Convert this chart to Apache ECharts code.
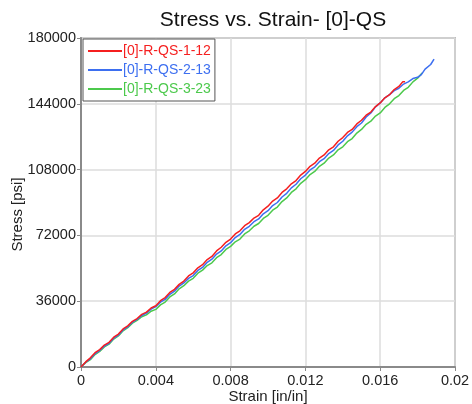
<!DOCTYPE html>
<html><head><meta charset="utf-8">
<script src="https://cdn.jsdelivr.net/npm/echarts@6/dist/echarts.min.js"></script>
<style>html,body{margin:0;padding:0;background:#fff}#c{width:472px;height:404px}</style>
</head><body><div id="c"></div>
<script>
const seriesNames = ['[0]-R-QS-1-12', '[0]-R-QS-2-13', '[0]-R-QS-3-23'];
const xTicks = [0, 0.004, 0.008, 0.012, 0.016, 0.02];
const yTicks = [0, 36000, 72000, 108000, 144000, 180000];
// [strain, stress]
const red = [[0,0],[0.00025,2800],[0.0005,5000],[0.00075,7800],[0.001,9500],[0.00125,12000],[0.0015,13500],[0.00175,16300],[0.002,18000],[0.00225,20800],[0.0025,22500],[0.00275,25000],[0.003,26500],[0.00325,28800],[0.0035,30000],[0.00375,32300],[0.004,33500],[0.00425,36300],[0.0045,38000],[0.00475,40800],[0.005,42500],[0.00525,45200],[0.0055,47000],[0.00575,49800],[0.006,51500],[0.00625,54300],[0.0065,56000],[0.00675,58800],[0.007,60500],[0.00725,63500],[0.0075,65500],[0.00775,68200],[0.008,70000],[0.00825,72800],[0.0085,74500],[0.00875,77300],[0.009,79000],[0.00925,81500],[0.0095,83000],[0.00975,86000],[0.010,88000],[0.01025,90800],[0.0105,92500],[0.01075,95500],[0.011,97500],[0.01125,100200],[0.0115,102000],[0.01175,105000],[0.012,107000],[0.01225,109800],[0.0125,111500],[0.01275,114300],[0.013,116000],[0.01325,118800],[0.0135,120500],[0.01375,123500],[0.014,125500],[0.01425,128300],[0.0145,130000],[0.01475,133000],[0.015,135000],[0.01525,137800],[0.0155,139500],[0.01575,142500],[0.016,144500],[0.01625,147300],[0.0165,149000],[0.01675,151800],[0.017,153500],[0.0172,156000],[0.01733,156000]];
const blue = [[0,0],[0.00025,2600],[0.0005,4500],[0.00075,7300],[0.001,9000],[0.00125,11500],[0.0015,13000],[0.00175,15800],[0.002,17500],[0.00225,20300],[0.0025,22000],[0.00275,24500],[0.003,26000],[0.00325,28200],[0.0035,29500],[0.00375,31700],[0.004,33000],[0.00425,35500],[0.0045,37000],[0.00475,39800],[0.005,41500],[0.00525,44300],[0.0055,46000],[0.00575,48500],[0.006,50000],[0.00625,52800],[0.0065,54500],[0.00675,57300],[0.007,59000],[0.00725,61800],[0.0075,63500],[0.00775,66300],[0.008,68000],[0.00825,70800],[0.0085,72500],[0.00875,75300],[0.009,77000],[0.00925,79500],[0.0095,81000],[0.00975,83800],[0.010,85500],[0.01025,88300],[0.0105,90000],[0.01075,93000],[0.011,95000],[0.01125,98000],[0.0115,100000],[0.01175,103000],[0.012,105000],[0.01225,107800],[0.0125,109500],[0.01275,112300],[0.013,114000],[0.01325,116800],[0.0135,118500],[0.01375,121500],[0.014,123500],[0.01425,126500],[0.0145,128500],[0.01475,131500],[0.015,133500],[0.01525,136800],[0.0155,139000],[0.01575,142300],[0.016,144500],[0.01625,147300],[0.0165,149000],[0.01675,151200],[0.017,152500],[0.01725,154800],[0.0175,156000],[0.01775,157800],[0.018,158500],[0.0182,160000],[0.0184,163000],[0.0185,164000],[0.0187,165500],[0.0188,166500],[0.01888,168500]];
const green = [[0,0],[0.00025,2400],[0.0005,4000],[0.00075,6800],[0.001,8500],[0.00125,11000],[0.0015,12500],[0.00175,15300],[0.002,17000],[0.00225,19800],[0.0025,21500],[0.00275,24000],[0.003,25500],[0.00325,27500],[0.0035,28500],[0.00375,30500],[0.004,31500],[0.00425,34000],[0.0045,35500],[0.00475,38300],[0.005,40000],[0.00525,42800],[0.0055,44500],[0.00575,47000],[0.006,48500],[0.00625,51300],[0.0065,53000],[0.00675,55500],[0.007,57000],[0.00725,59800],[0.0075,61500],[0.00775,64300],[0.008,66000],[0.00825,68500],[0.0085,70000],[0.00875,72800],[0.009,74500],[0.00925,77000],[0.0095,78500],[0.00975,81300],[0.010,83000],[0.01025,85800],[0.0105,87500],[0.01075,90500],[0.011,92500],[0.01125,95500],[0.0115,97500],[0.01175,100500],[0.012,102500],[0.01225,105300],[0.0125,107000],[0.01275,109800],[0.013,111500],[0.01325,114300],[0.0135,116000],[0.01375,118800],[0.014,120500],[0.01425,123300],[0.0145,125000],[0.01475,128000],[0.015,130000],[0.01525,132800],[0.0155,134500],[0.01575,137300],[0.016,139000],[0.01625,142000],[0.0165,144000],[0.01675,146800],[0.017,148500],[0.01725,151300],[0.0175,153000],[0.01775,156000],[0.018,158000],[0.01824,160900]];
const colors = ['#f51f1f', '#3d6ff0', '#4cc94c'];

const chart = echarts.init(document.getElementById('c'), null, {renderer: 'canvas'});
const font = 'Liberation Sans, Arial, sans-serif';
chart.setOption({
  animation: false,
  color: colors,
  title: {text: 'Stress vs. Strain- [0]-QS', left: 268, textAlign: 'center', top: 5,
    textStyle: {fontFamily: font, fontSize: 21, fontWeight: 'normal', color: '#111'}},
  grid: {left: 81, right: 17, top: 38, bottom: 37, outerBoundsMode: 'none', containLabel: false,
    show: true, borderColor: '#8a8a8a', borderWidth: 1.5, backgroundColor: '#fff'},
  legend: {orient: 'vertical', left: 83, top: 39, data: seriesNames, icon: 'rect', itemWidth: 34, itemHeight: 2,
    itemGap: 3, padding: [4, 4, 4, 5], borderColor: '#555', borderWidth: 1, backgroundColor: '#fff',
    formatter: n => '{c' + seriesNames.indexOf(n) + '|' + n + '}',
    textStyle: {fontFamily: font, fontSize: 14, lineHeight: 16, padding: [0, 0, 0, -4],
      rich: {c0: {color: colors[0], fontSize: 14, fontFamily: font}, c1: {color: colors[1], fontSize: 14, fontFamily: font}, c2: {color: colors[2], fontSize: 14, fontFamily: font}}}},
  xAxis: {type: 'value', min: xTicks[0], max: xTicks[xTicks.length-1], interval: 0.004,
    name: 'Strain [in/in]', nameLocation: 'middle', nameGap: 22, nameMoveOverlap: false,
    nameTextStyle: {fontFamily: font, fontSize: 15, color: '#222'},
    axisLine: {lineStyle: {color: '#8a8a8a', width: 2}},
    axisTick: {show: true, length: 4, lineStyle: {color: '#8a8a8a'}},
    axisLabel: {fontFamily: font, fontSize: 14.5, color: '#222', margin: 6, formatter: v => String(+v.toFixed(3))},
    splitLine: {show: true, lineStyle: {color: '#dcdcdc', width: 1.5}}},
  yAxis: {type: 'value', min: yTicks[0], max: yTicks[yTicks.length-1], interval: 36000,
    name: 'Stress [psi]', nameLocation: 'middle', nameGap: 56, nameMoveOverlap: false,
    nameTextStyle: {fontFamily: font, fontSize: 15, color: '#222', padding: [0, 0, 0, -24]},
    axisLine: {show: true, lineStyle: {color: '#8a8a8a', width: 2}},
    axisTick: {show: true, length: 4, lineStyle: {color: '#8a8a8a'}},
    axisLabel: {fontFamily: font, fontSize: 14.5, color: '#222', margin: 5, formatter: v => String(v)},
    splitLine: {show: true, lineStyle: {color: '#dcdcdc', width: 1.5}}},
  series: [red, blue, green].map((d, i) => ({
    name: seriesNames[i], type: 'line', data: d, showSymbol: false, symbol: 'none',
    lineStyle: {width: 1.5, color: colors[i]}, z: 3 - i
  }))
});
</script></body></html>
